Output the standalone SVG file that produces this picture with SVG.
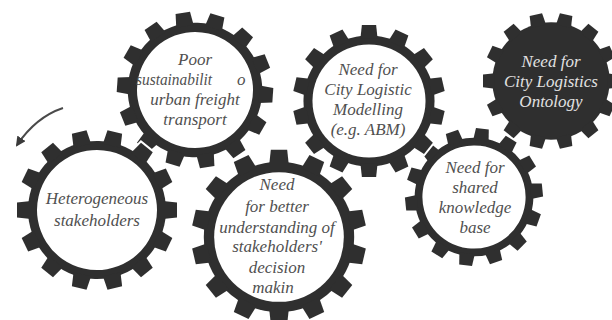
<svg xmlns="http://www.w3.org/2000/svg" width="612" height="320" viewBox="0 0 612 320">
  <style>
    .halo { fill: #2f2f2f; stroke: #ffffff; stroke-width: 4; stroke-linejoin: miter; }
    .body { fill: #2f2f2f; }
    .hole { fill: #ffffff; }
    .label { font-style: italic; font-size: 17px; fill: #505050; text-anchor: middle; }
    .label-dark { fill: #e2e2e2; }
    .arrow { fill: none; stroke: #4a4a4a; stroke-width: 2; }
  </style>
  <defs>
    <!-- one tooth pointing up from the gear centre -->
    <polygon id="tooth" points="-9,-66 9,-66 7.5,-80 -7.5,-80"/>
    <!-- base gear: rim radius 69, tip radius 80, 14 teeth -->
    <g id="gear">
      <circle r="69"/>
      <use href="#tooth"/>
      <use href="#tooth" transform="rotate(25.714)"/>
      <use href="#tooth" transform="rotate(51.429)"/>
      <use href="#tooth" transform="rotate(77.143)"/>
      <use href="#tooth" transform="rotate(102.857)"/>
      <use href="#tooth" transform="rotate(128.571)"/>
      <use href="#tooth" transform="rotate(154.286)"/>
      <use href="#tooth" transform="rotate(180)"/>
      <use href="#tooth" transform="rotate(205.714)"/>
      <use href="#tooth" transform="rotate(231.429)"/>
      <use href="#tooth" transform="rotate(257.143)"/>
      <use href="#tooth" transform="rotate(282.857)"/>
      <use href="#tooth" transform="rotate(308.571)"/>
      <use href="#tooth" transform="rotate(334.286)"/>
    </g>
    <marker id="head" viewBox="0 0 10 10" refX="8" refY="5" markerWidth="5" markerHeight="5" orient="auto" markerUnits="strokeWidth">
      <path d="M0,0 L10,5 L0,10 z" fill="#3a3a3a"/>
    </marker>
  </defs>

  <g font-family="'Liberation Serif', 'DejaVu Serif', serif">
  <!-- dark gear: ontology -->
  <g id="gear-ontology">
    <g transform="translate(551,81) scale(0.85) rotate(12.857)">
      <use href="#gear" class="halo"/>
      <use href="#gear" class="body"/>
    </g>
    <text class="label label-dark" x="551" y="67">Need for</text>
    <text class="label label-dark" x="551" y="87">City Logistics</text>
    <text class="label label-dark" x="551" y="107">Ontology</text>
  </g>

  <g id="gear-knowledge">
    <g transform="translate(474,197) scale(0.86) rotate(7)">
      <use href="#gear" class="halo"/>
      <use href="#gear" class="body"/>
      <circle class="hole" r="60"/>
    </g>
    <text class="label" x="475" y="173">Need for</text>
    <text class="label" x="475" y="193">shared</text>
    <text class="label" x="475" y="213">knowledge</text>
    <text class="label" x="475" y="233">base</text>
  </g>

  <g id="gear-modelling">
    <g transform="translate(369,101) scale(0.95)">
      <use href="#gear" class="halo"/>
      <use href="#gear" class="body"/>
      <circle class="hole" r="59.5"/>
    </g>
    <text class="label" x="368" y="75">Need for</text>
    <text class="label" x="368" y="95">City Logistic</text>
    <text class="label" x="368" y="115">Modelling</text>
    <text class="label" x="368" y="135">(e.g. ABM)</text>
  </g>

  <g id="gear-sustainability">
    <g transform="translate(195,90) scale(0.975) rotate(-9)">
      <use href="#gear" class="halo"/>
      <use href="#gear" class="body"/>
      <circle class="hole" r="59.5"/>
    </g>
    <text class="label" x="195" y="65">Poor</text>
    <text class="label" x="212" y="85" style="text-anchor:end" textLength="76" lengthAdjust="spacingAndGlyphs">sustainabilit</text>
    <text class="label" x="237" y="85" style="text-anchor:start">o</text>
    <text class="label" x="195" y="105">urban freight</text>
    <text class="label" x="195" y="125">transport</text>
  </g>

  <g id="gear-stakeholders">
    <g transform="translate(97,210) rotate(12.857)">
      <use href="#gear" class="halo"/>
      <use href="#gear" class="body"/>
      <circle class="hole" r="60"/>
    </g>
    <text class="label" x="97" y="204">Heterogeneous</text>
    <text class="label" x="97" y="226">stakeholders</text>
  </g>

  <g id="gear-understanding">
    <g transform="translate(279,237) scale(1.09)">
      <use href="#gear" class="halo"/>
      <use href="#gear" class="body"/>
      <circle class="hole" r="59.5"/>
    </g>
    <text class="label" x="277" y="190">Need</text>
    <text class="label" x="277" y="212">for better</text>
    <text class="label" x="277" y="233">understanding of</text>
    <text class="label" x="277" y="252">stakeholders'</text>
    <text class="label" x="277" y="273">decision</text>
    <text class="label" x="273" y="293">makin</text>
  </g>
  </g>

  <!-- rotation direction -->
  <g id="connectors">
    <path class="arrow" d="M63,108 Q36,117 17,145" marker-end="url(#head)"/>
  </g>
</svg>
